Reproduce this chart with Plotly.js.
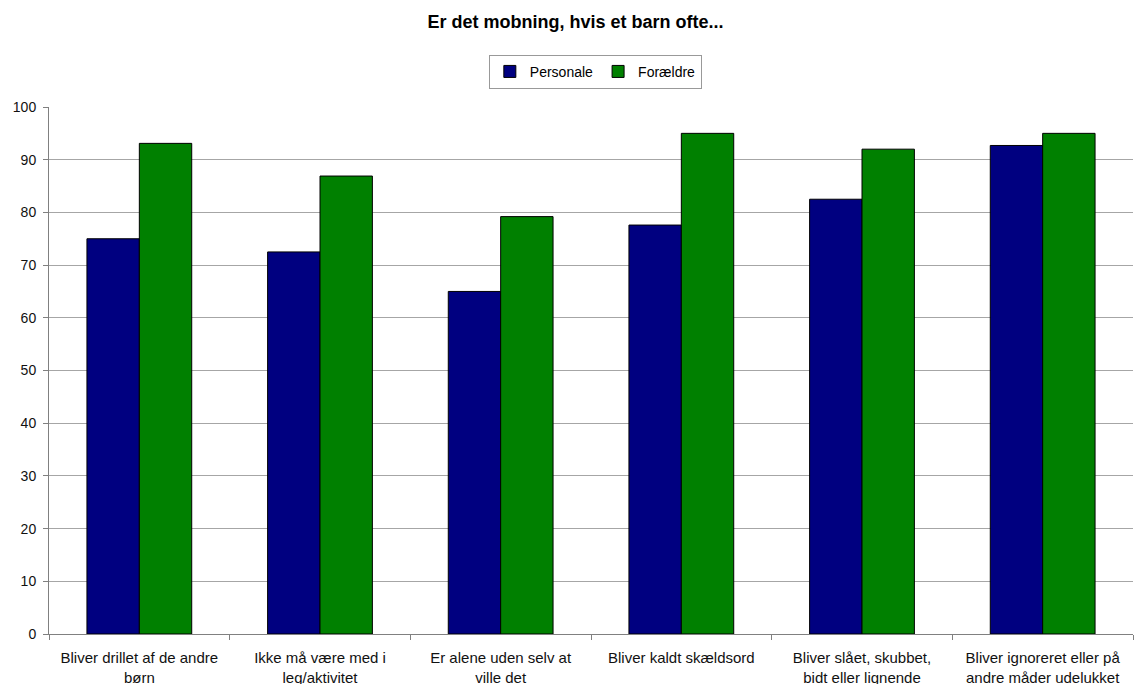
<!DOCTYPE html>
<html>
<head>
<meta charset="utf-8">
<script src="https://cdn.plot.ly/plotly-3.0.1.min.js"></script>
<style>html,body{margin:0;padding:0;background:#fff;}#chart{width:1135px;height:684px;}</style>
</head>
<body>
<div id="chart"></div>
<script>
const categories = [
  "Bliver drillet af de andre<br>børn",
  "Ikke må være med i<br>leg/aktivitet",
  "Er alene uden selv at<br>ville det",
  "Bliver kaldt skældsord",
  "Bliver slået, skubbet,<br>bidt eller lignende",
  "Bliver ignoreret eller på<br>andre måder udelukket"
];
const personale = [75.0, 72.5, 65.0, 77.6, 82.5, 92.7];
const foraeldre = [93.1, 86.9, 79.2, 95.0, 92.0, 95.0];
const yTicks = [0, 10, 20, 30, 40, 50, 60, 70, 80, 90, 100];

const font = "Liberation Sans, Arial, sans-serif";
const data = [
  {type: "bar", name: "Personale", x: categories, y: personale,
   marker: {color: "#000080", line: {color: "#000000", width: 1}}},
  {type: "bar", name: "Forældre", x: categories, y: foraeldre,
   marker: {color: "#008000", line: {color: "#000000", width: 1}}}
];
const layout = {
  width: 1135, height: 684,
  margin: {l: 49, r: 2, t: 107, b: 50},
  paper_bgcolor: "#fff", plot_bgcolor: "#fff",
  font: {family: font, size: 14, color: "#222"},
  title: {text: "<b>Er det mobning, hvis et barn ofte...</b>", font: {family: font, size: 18, color: "#000"},
          x: 0.507, xref: "container", xanchor: "center", y: 1 - 22/684, yref: "container", yanchor: "middle"},
  barmode: "group", bargap: 0.42, bargroupgap: 0,
  showlegend: true,
  legend: {orientation: "h", x: 0.504, xanchor: "center", y: 1.099, yanchor: "top",
           bordercolor: "#999", borderwidth: 1, bgcolor: "#fff",
           font: {family: font, size: 14, color: "#000"}, itemwidth: 30, tracegroupgap: 0},
  xaxis: {showline: true, linecolor: "#808080", linewidth: 1, ticks: "outside", ticklen: 5,
          tickcolor: "#808080", tickson: "boundaries", showgrid: false, ticklabelstandoff: 10,
          tickfont: {family: font, size: 15, color: "#111"}, fixedrange: true},
  yaxis: {range: [0, 100], tickvals: yTicks, showline: true, linecolor: "#808080", linewidth: 1,
          ticks: "outside", ticklen: 5, tickcolor: "#808080", showgrid: true, gridcolor: "#a6a6a6",
          gridwidth: 1, zeroline: false, ticklabelstandoff: 4,
          tickfont: {family: font, size: 14, color: "#111"}, fixedrange: true}
};
Plotly.newPlot("chart", data, layout, {displayModeBar: false, staticPlot: true});
</script>
</body>
</html>
